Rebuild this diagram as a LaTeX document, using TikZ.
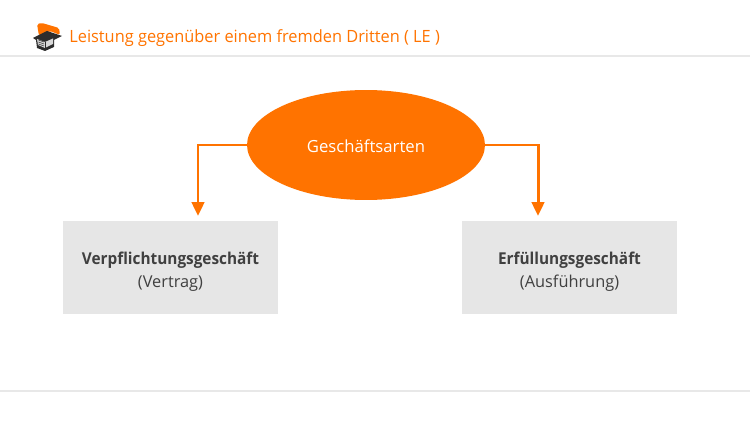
\documentclass[tikz,border=0pt]{standalone}
\usepackage{fontspec}
\setmainfont[BoldFeatures={FakeStretch=0.94}]{Open Sans}
\usepackage{tikz}
\usetikzlibrary{
    positioning,
    arrows.meta,
    shapes.geometric
}
\definecolor{MainOrange}{RGB}{255,115,0}
\definecolor{BoxGray}{RGB}{230,230,230}
\definecolor{RuleGray}{RGB}{232,232,232}
\definecolor{TextDark}{RGB}{64,64,64}
\definecolor{IconDark}{RGB}{45,45,45}
\newfontfamily\titlefont[FakeStretch=0.97]{Open Sans}

\begin{document}
\begin{tikzpicture}[
                    x=0.02cm, y=-0.02cm,
                    font=\fontsize{9.3}{13}\selectfont,
                    every node/.style={inner sep=0pt},
                    artbox/.style={fill=BoxGray, minimum width=4.3cm, minimum height=1.86cm,
                                   align=center, text=TextDark},
                    artarrow/.style={draw=MainOrange, line width=1.7pt, shorten >=0.1cm,
                                     -{Triangle[length=0.28cm,width=0.25cm]}},
                ]
                  \useasboundingbox (0,0) rectangle (750,422);

                  % Header and footer rules
                  \draw[RuleGray,line width=0.6pt] (0,56) -- (750,56);
                  \draw[RuleGray,line width=0.6pt] (0,391) -- (750,391);

                  % Title
                  \node[anchor=west,text=MainOrange,font=\titlefont\fontsize{9.6}{12}\selectfont] (title) at (69,38)
                    {Leistung gegenüber einem fremden Dritten ( LE )};

                  % Icon: orange cover, dark cap, book
                  \fill[MainOrange,rounded corners=1pt] (37,24) -- (39,36) -- (50,31) -- (60,35) -- (59,28) -- (42,23) -- cycle;
                  \fill[IconDark] (33,38) -- (47,31) -- (62,36) -- (54,40) -- (54,47) -- (45,51) -- (37,48) -- (36,40) -- cycle;
                  \fill[white!85!black] (37,39) -- (45,42) -- (53,38.5) -- (53,44) -- (45,48) -- (38,45) -- cycle;
                  \draw[IconDark,line width=0.4pt] (45,42) -- (45,48);
                  \foreach \y in {40,42,44}
                    \draw[IconDark,line width=0.3pt] (38.5,\y) -- (44,\y+2);

                  % Top ellipse
                  \node[ellipse,fill=MainOrange,text=white,minimum width=4.76cm,minimum height=2.2cm,font=\fontsize{9.5}{13}\selectfont] (arten) at (366,145)
                    {\rule{0pt}{9pt}Geschäftsarten};

                  % Two boxes
                  \node[artbox] (verpflichtung) at (170.5,267.5)
                    {\rule{0pt}{12pt}\textbf{Verpflichtungsgeschäft}\\(Vertrag)};
                  \node[artbox] (erfuellung) at (569.5,267.5)
                    {\rule{0pt}{12pt}\textbf{Erfüllungsgeschäft}\\(Ausführung)};

                  % Arrows
                  \coordinate (leftdrop) at (198,221);
                  \coordinate (rightdrop) at (538,221);
                  \draw[artarrow] (arten.west) -| (leftdrop);
                  \draw[artarrow] (arten.east) -| (rightdrop);
                \end{tikzpicture}
\end{document}
